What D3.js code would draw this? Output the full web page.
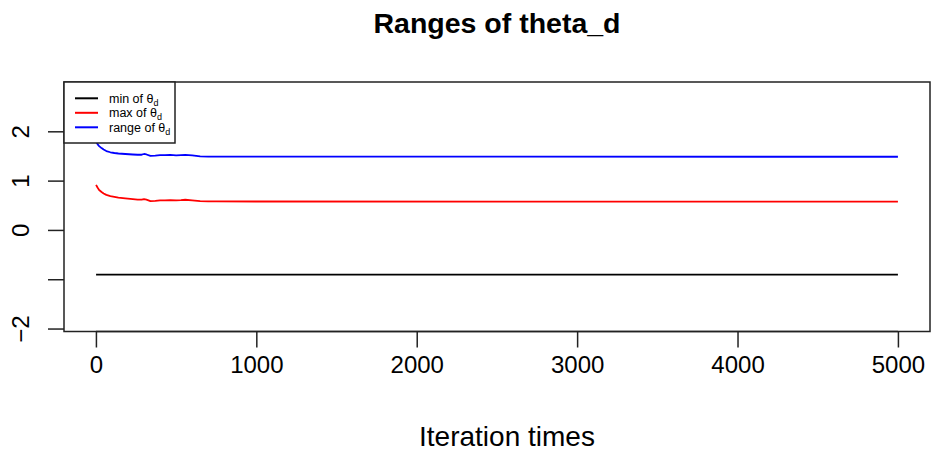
<!DOCTYPE html>
<html>
<head>
<meta charset="utf-8">
<script src="https://cdn.jsdelivr.net/npm/d3@7"></script>
<style>
  html, body { margin: 0; padding: 0; background: #fff; }
  svg { display: block; font-family: "Liberation Sans", Arial, Helvetica, sans-serif; }
</style>
</head>
<body>
<svg id="chart" width="931" height="455"></svg>
<script>
// Iterations at which the traces are sampled
const iterations = [1, 10, 20, 35, 48, 65, 90, 115, 140, 183, 230, 260, 285, 300, 315, 340, 370, 400, 430, 463, 500, 530, 557, 600, 650, 700, 750, 1000, 5000];
// Running maximum of theta_d
const maxTheta = [0.915, 0.86, 0.81, 0.77, 0.74, 0.71, 0.685, 0.67, 0.655, 0.64, 0.625, 0.615, 0.615, 0.625, 0.615, 0.585, 0.59, 0.60, 0.60, 0.605, 0.60, 0.605, 0.612, 0.60, 0.585, 0.578, 0.577, 0.576, 0.575];
// Running range of theta_d
const rangeTheta = [1.79, 1.74, 1.70, 1.66, 1.63, 1.60, 1.575, 1.56, 1.55, 1.54, 1.53, 1.525, 1.525, 1.54, 1.53, 1.50, 1.505, 1.515, 1.515, 1.52, 1.51, 1.515, 1.52, 1.51, 1.49, 1.487, 1.486, 1.485, 1.484];
// Running minimum of theta_d (flat)
const minIterations = [1, 5000];
const minTheta = [-0.905, -0.905];

const xTicks = [0, 1000, 2000, 3000, 4000, 5000];
const yTicks = [-2, -1, 0, 1, 2];
const yTickLabels = ["\u22122", "", "0", "1", "2"];

const svg = d3.select("#chart");
const box = { left: 64, right: 930, top: 82, bottom: 331.5 };

const x = d3.scaleLinear().domain([-199, 5200]).range([box.left, box.right]);
const y = d3.scaleLinear().domain([-2.06, 3.0]).range([box.bottom, box.top]);

// title
svg.append("text")
  .attr("x", 497).attr("y", 33)
  .attr("text-anchor", "middle")
  .style("font-size", "28.5px").style("font-weight", "bold")
  .text("Ranges of theta_d");

// x axis
const xAxis = svg.append("g")
  .attr("transform", `translate(0,${box.bottom})`)
  .call(d3.axisBottom(x).tickValues(xTicks).tickSize(16).tickPadding(8).tickFormat(d3.format("d")));
xAxis.select(".domain").remove();
xAxis.append("line")
  .attr("x1", x(0)).attr("x2", x(5000))
  .attr("stroke", "#222").attr("stroke-width", 1.5);
xAxis.selectAll(".tick line").attr("stroke", "#222").attr("stroke-width", 1.5);
xAxis.selectAll(".tick text")
  .attr("fill", "#000")
  .style("font-size", "24px")
  .style("font-family", "Liberation Sans, Arial, sans-serif");

// y axis
const yAxis = svg.append("g")
  .attr("transform", `translate(${box.left},0)`)
  .call(d3.axisLeft(y).tickValues(yTicks).tickSize(16).tickFormat((d, i) => yTickLabels[i]));
yAxis.select(".domain").remove();
yAxis.selectAll(".tick line").attr("stroke", "#222").attr("stroke-width", 1.5);
yAxis.selectAll(".tick text")
  .attr("fill", "#000")
  .attr("x", null).attr("dy", null)
  .attr("text-anchor", "middle")
  .attr("transform", "translate(-35,0) rotate(-90)")
  .style("font-size", "24px")
  .style("font-family", "Liberation Sans, Arial, sans-serif");

// x label
svg.append("text")
  .attr("x", 507).attr("y", 446)
  .attr("text-anchor", "middle")
  .style("font-size", "28px")
  .text("Iteration times");

// series
const line = d3.line().x(d => x(d[0])).y(d => y(d[1]));
const series = [
  { xs: minIterations, ys: minTheta, color: "#000000" },
  { xs: iterations, ys: maxTheta, color: "#ff0000" },
  { xs: iterations, ys: rangeTheta, color: "#0000ff" }
];
series.forEach(s => {
  svg.append("path")
    .datum(s.xs.map((v, i) => [v, s.ys[i]]))
    .attr("d", line)
    .attr("fill", "none")
    .attr("stroke", s.color)
    .attr("stroke-width", 1.8)
    .attr("stroke-linejoin", "round");
});

// plot frame
svg.append("rect")
  .attr("x", box.left).attr("y", box.top)
  .attr("width", box.right - box.left).attr("height", box.bottom - box.top)
  .attr("fill", "none").attr("stroke", "#222").attr("stroke-width", 1.5);

// legend
const legend = svg.append("g");
legend.append("rect")
  .attr("x", box.left).attr("y", box.top)
  .attr("width", 111).attr("height", 61)
  .attr("fill", "#fff").attr("stroke", "#222").attr("stroke-width", 1.5);
const legendItems = [
  { label: "min of ", color: "#000000" },
  { label: "max of ", color: "#ff0000" },
  { label: "range of ", color: "#0000ff" }
];
legendItems.forEach((d, i) => {
  const ly = 98.3 + i * 14.5;
  legend.append("line")
    .attr("x1", 75).attr("x2", 98).attr("y1", ly).attr("y2", ly)
    .attr("stroke", d.color).attr("stroke-width", 2);
  const t = legend.append("text")
    .attr("x", 109).attr("y", ly + 4.3)
    .style("font-size", "12.5px");
  t.append("tspan").text(d.label + "\u03b8");
  t.append("tspan").attr("dy", 3).style("font-size", "9px").text("d");
});
</script>
</body>
</html>
